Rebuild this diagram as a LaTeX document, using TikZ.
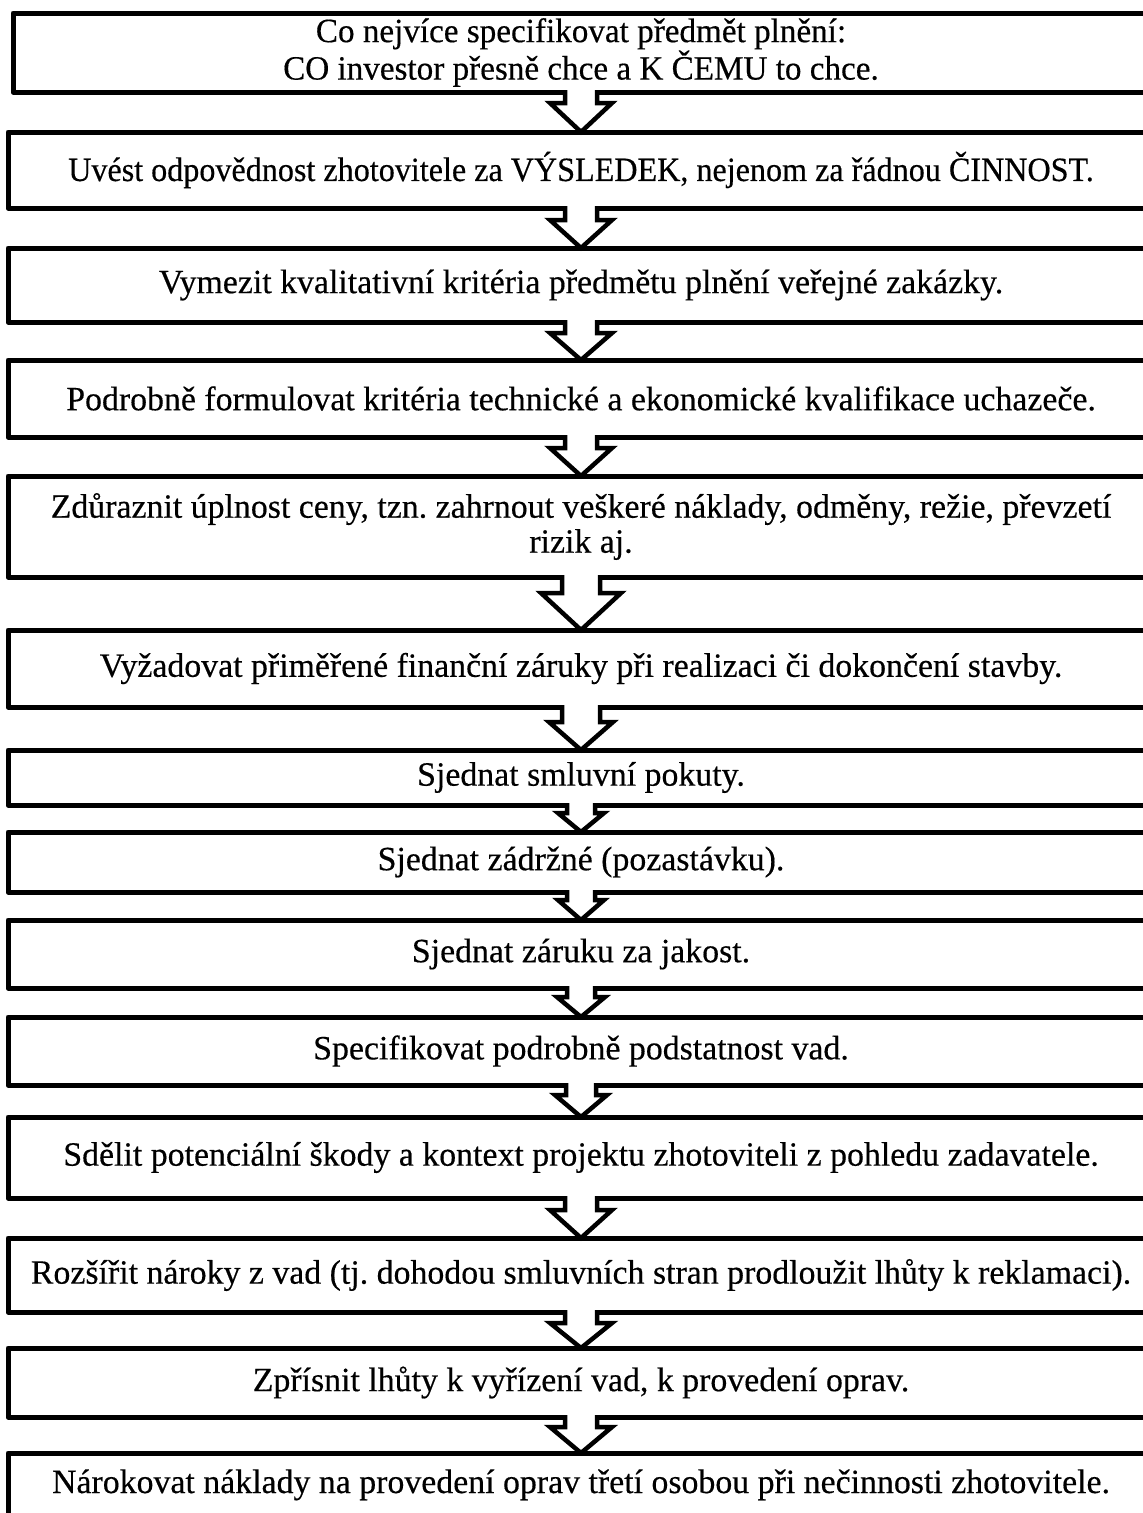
\documentclass[tikz,border=0pt]{standalone}
\usepackage{fontspec}
\setmainfont{Liberation Serif}
\newfontfamily\boxfont[FakeStretch=0.995,FakeBold=0.4]{Liberation Serif}
\newfontfamily\capsfont[FakeStretch=0.945,FakeBold=0.4]{Liberation Serif}
\newfontfamily\firstfont[FakeStretch=0.975,FakeBold=0.4]{Liberation Serif}
\usetikzlibrary{calc}
\tikzset{
  stepbox/.style={draw=black, line width=5pt, line join=round, fill=white,
    rectangle, inner sep=0pt, outer sep=0pt, align=center,
    font=\boxfont\fontsize{34}{35}\selectfont},
  arrowline/.style={draw=black, line width=4.5pt, line join=miter},
}
\newcommand\blockarr[5]{%
  \fill[white] ($(#1.south)+(-#3,-3)$) -- ($(#1.south)+(-#3,#5)$) -- ($(#1.south)+(-#4,#5)$)
    -- (#2.north) -- ($(#1.south)+(#4,#5)$) -- ($(#1.south)+(#3,#5)$) -- ($(#1.south)+(#3,-3)$) -- cycle;
  \draw[arrowline] ($(#1.south)+(-#3,-2)$) -- ($(#1.south)+(-#3,#5)$) -- ($(#1.south)+(-#4,#5)$)
    -- (#2.north) -- ($(#1.south)+(#4,#5)$) -- ($(#1.south)+(#3,#5)$) -- ($(#1.south)+(#3,-2)$);
}
\frenchspacing
\begin{document}
\begin{tikzpicture}[x=1pt,y=-1pt]
\useasboundingbox (0,0) rectangle (1143,1513);
\clip (0,0) rectangle (1143,1513);
\fill[white] (0,0) rectangle (1143,1513);
\node[stepbox, minimum width=1136pt, minimum height=79pt, font=\firstfont\fontsize{34}{33}\selectfont] (b1) at (581,52.5)
  {Co nejvíce specifikovat předmět plnění:\\CO investor přesně chce a K ČEMU to chce.};
\node[stepbox, minimum width=1146pt, minimum height=76pt, font=\capsfont\fontsize{34}{35}\selectfont] (b2) at (581,170)
  {Uvést odpovědnost zhotovitele za VÝSLEDEK, nejenom za řádnou ČINNOST.};
\node[stepbox, minimum width=1146pt, minimum height=74pt] (b3) at (581,285)
  {Vymezit kvalitativní kritéria předmětu plnění veřejné zakázky.};
\node[stepbox, minimum width=1146pt, minimum height=77pt] (b4) at (581,398.5)
  {Podrobně formulovat kritéria technické a ekonomické kvalifikace uchazeče.};
\node[stepbox, minimum width=1146pt, minimum height=101pt] (b5) at (581,526.5)
  {Zdůraznit úplnost ceny, tzn. zahrnout veškeré náklady, odměny, režie, převzetí\\rizik aj.};
\node[stepbox, minimum width=1146pt, minimum height=77pt] (b6) at (581,668.5)
  {Vyžadovat přiměřené finanční záruky při realizaci či dokončení stavby.};
\node[stepbox, minimum width=1146pt, minimum height=55pt] (b7) at (581,777.5)
  {Sjednat smluvní pokuty.};
\node[stepbox, minimum width=1146pt, minimum height=60pt] (b8) at (581,862)
  {Sjednat zádržné (pozastávku).};
\node[stepbox, minimum width=1146pt, minimum height=68pt] (b9) at (581,954)
  {Sjednat záruku za jakost.};
\node[stepbox, minimum width=1146pt, minimum height=68pt] (b10) at (581,1051)
  {Specifikovat podrobně podstatnost vad.};
\node[stepbox, minimum width=1146pt, minimum height=81pt] (b11) at (581,1157.5)
  {Sdělit potenciální škody a kontext projektu zhotoviteli z pohledu zadavatele.};
\node[stepbox, minimum width=1146pt, minimum height=74pt] (b12) at (581,1275)
  {Rozšířit nároky z vad (tj. dohodou smluvních stran prodloužit lhůty k reklamaci).};
\node[stepbox, minimum width=1146pt, minimum height=69pt] (b13) at (581,1382.5)
  {Zpřísnit lhůty k vyřízení vad, k provedení oprav.};
\node[stepbox, minimum width=1146pt, text height=40pt, text depth=40pt, anchor=base] (b14) at (581,1493)
  {Nárokovat náklady na provedení oprav třetí osobou při nečinnosti zhotovitele.};
\blockarr{b1}{b2}{16}{31}{11}
\blockarr{b2}{b3}{16}{31}{12}
\blockarr{b3}{b4}{16}{31}{11}
\blockarr{b4}{b5}{16}{31}{11}
\blockarr{b5}{b6}{19}{40}{16}
\blockarr{b6}{b7}{19}{32}{15}
\blockarr{b7}{b8}{14}{23}{8}
\blockarr{b8}{b9}{14}{23}{8}
\blockarr{b9}{b10}{14}{24}{9}
\blockarr{b10}{b11}{15}{26}{10}
\blockarr{b11}{b12}{16}{31}{12}
\blockarr{b12}{b13}{16}{31}{11}
\blockarr{b13}{b14}{16}{31}{10}
\end{tikzpicture}
\end{document}
